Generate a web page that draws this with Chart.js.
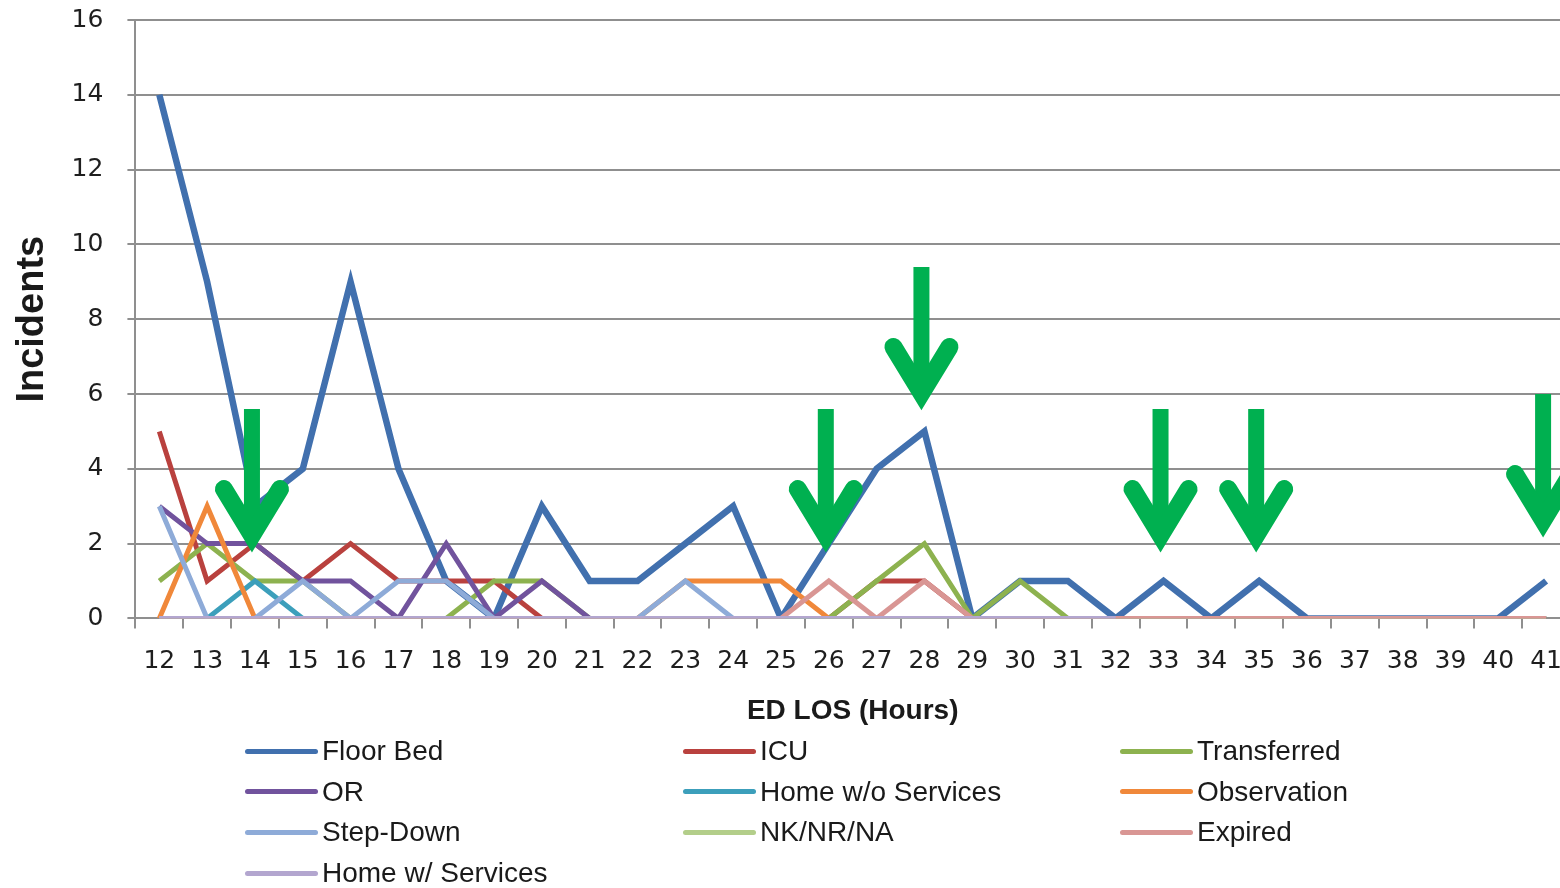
<!DOCTYPE html>
<html>
<head>
<meta charset="utf-8">
<script src="https://cdn.jsdelivr.net/npm/chart.js@4.4.1/dist/chart.umd.min.js"></script>
<style>
  html, body { margin: 0; padding: 0; background: #fff; overflow: hidden; }
  #wrap { position: relative; width: 1580px; height: 888px; }
  #legend { position: absolute; left: 0; top: 0; width: 1560px; height: 888px; pointer-events: none;
    font-family: "Liberation Sans", Arial, sans-serif; font-size: 28px; color: #1a1a1a; }
  .item { position: absolute; display: flex; align-items: center; height: 36px; white-space: nowrap; }
  .swatch { width: 73px; height: 5px; border-radius: 3px; margin-right: 4px; }
</style>
</head>
<body>
<div id="wrap">
  <canvas id="incidents-chart" width="1580" height="888"></canvas>
  <div id="legend"></div>
</div>
<script>
// ED length of stay, hours
const hours = ['12', '13', '14', '15', '16', '17', '18', '19', '20', '21',
  '22', '23', '24', '25', '26', '27', '28', '29', '30', '31',
  '32', '33', '34', '35', '36', '37', '38', '39', '40', '41'];

const floorBed       = [14, 9, 3, 4, 9, 4, 1, 0, 3, 1, 1, 2, 3, 0, 2, 4, 5, 0, 1, 1, 0, 1, 0, 1, 0, 0, 0, 0, 0, 1];
const icu            = [5, 1, 2, 1, 2, 1, 1, 1, 0, 0, 0, 0, 0, 0, 0, 1, 1, 0, 0, 0, 0, 0, 0, 0, 0, 0, 0, 0, 0, 0];
const transferred    = [1, 2, 1, 1, 0, 0, 0, 1, 1, 0, 0, 0, 0, 0, 0, 1, 2, 0, 1, 0, 0, 0, 0, 0, 0, 0, 0, 0, 0, 0];
const orRoom         = [3, 2, 2, 1, 1, 0, 2, 0, 1, 0, 0, 0, 0, 0, 0, 0, 0, 0, 0, 0, 0, 0, 0, 0, 0, 0, 0, 0, 0, 0];
const homeWoServices = [0, 0, 1, 0, 0, 0, 0, 0, 0, 0, 0, 0, 0, 0, 0, 0, 0, 0, 0, 0, 0, 0, 0, 0, 0, 0, 0, 0, 0, 0];
const observation    = [0, 3, 0, 0, 0, 0, 0, 0, 0, 0, 0, 1, 1, 1, 0, 0, 0, 0, 0, 0, 0, 0, 0, 0, 0, 0, 0, 0, 0, 0];
const stepDown       = [3, 0, 0, 1, 0, 1, 1, 0, 0, 0, 0, 1, 0, 0, 0, 0, 0, 0, 0, 0, 0, 0, 0, 0, 0, 0, 0, 0, 0, 0];
const nkNrNa         = [0, 0, 0, 0, 0, 0, 0, 0, 0, 0, 0, 0, 0, 0, 0, 0, 0, 0, 0, 0, 0, 0, 0, 0, 0, 0, 0, 0, 0, 0];
const expired        = [0, 0, 0, 0, 0, 0, 0, 0, 0, 0, 0, 0, 0, 0, 1, 0, 1, 0, 0, 0, 0, 0, 0, 0, 0, 0, 0, 0, 0, 0];
const homeWServices  = [0, 0, 0, 0, 0, 0, 0, 0, 0, 0, 0, 0, 0, 0, 0, 0, 0, 0, 0, 0, 0, null, null, null, null, null, null, null, null, null];

const seriesNames = ['Floor Bed', 'ICU', 'Transferred', 'OR', 'Home w/o Services',
  'Observation', 'Step-Down', 'NK/NR/NA', 'Expired', 'Home w/ Services'];
const seriesData = [floorBed, icu, transferred, orRoom, homeWoServices,
  observation, stepDown, nkNrNa, expired, homeWServices];
const seriesColors = ['#4170AE', '#B9413E', '#8DB24F', '#71539D', '#3C9FBB',
  '#F0883A', '#8EABD8', '#B3CE8A', '#D99694', '#B3A6CF'];

// green annotation arrows: hour they point at, value of the tip
const arrowHours = ['14', '26', '28', '33', '35', '41'];
const arrowTips = [1.8, 1.8, 5.6, 1.8, 1.8, 2.2];

const arrowPlugin = {
  id: 'arrows',
  afterDatasetsDraw(chart) {
    const { ctx, scales: { x, y } } = chart;
    ctx.save();
    ctx.strokeStyle = '#00B050';
    arrowHours.forEach((h, i) => {
      const cx = x.getPixelForValue(hours.indexOf(h)) - 3;
      const tip = y.getPixelForValue(arrowTips[i]);
      ctx.lineWidth = 16;
      ctx.lineCap = 'butt';
      ctx.beginPath();
      ctx.moveTo(cx, tip - 142);
      ctx.lineTo(cx, tip - 24);
      ctx.stroke();
      ctx.lineWidth = 18;
      ctx.lineCap = 'round';
      ctx.lineJoin = 'miter';
      ctx.beginPath();
      ctx.moveTo(cx - 28, tip - 62);
      ctx.lineTo(cx, tip - 16);
      ctx.lineTo(cx + 28, tip - 62);
      ctx.stroke();
    });
    ctx.restore();
  }
};

const n = seriesNames.length;
const datasets = seriesNames.map((name, i) => ({
  label: name,
  data: seriesData[i],
  borderColor: seriesColors[i],
  backgroundColor: seriesColors[i],
  borderWidth: i === 0 ? 6.5 : 5,
  pointRadius: 0,
  tension: 0,
  fill: false,
  order: n - 1 - i
}));

const gridGrey = '#8f8f8f';
const ctx = document.getElementById('incidents-chart').getContext('2d');
const chart = new Chart(ctx, {
  type: 'line',
  data: { labels: hours, datasets: datasets },
  options: {
    responsive: false,
    animation: false,
    devicePixelRatio: 1,
    layout: { padding: { top: 20, right: 0, bottom: 154, left: 0 } },
    plugins: {
      legend: { display: false },
      tooltip: { enabled: false }
    },
    scales: {
      x: {
        offset: true,
        grid: { offset: true, drawOnChartArea: false, drawTicks: true, tickLength: 10, color: gridGrey, lineWidth: 2 },
        border: { color: gridGrey, width: 2 },
        ticks: {
          autoSkip: false, maxRotation: 0, padding: 18, color: '#1e1e1e',
          font: { family: 'DejaVu Sans', size: 25 }
        },
        title: {
          display: true, text: 'ED LOS (Hours)', color: '#1a1a1a',
          font: { family: 'Liberation Sans', size: 28, weight: 'bold' },
          padding: { top: 0, bottom: 6 }
        }
      },
      y: {
        min: 0, max: 16,
        // long tick slot keeps the labels away from the axis, only the last 8px are drawn
        grid: { color: gridGrey, lineWidth: 2, tickLength: 28, tickBorderDash: [0, 20, 40] },
        border: { color: gridGrey, width: 2 },
        ticks: {
          stepSize: 2, padding: 4, color: '#1e1e1e',
          font: { family: 'DejaVu Sans', size: 25 }
        },
        title: {
          display: true, text: 'Incidents', color: '#1a1a1a',
          font: { family: 'Liberation Sans', size: 38, weight: 'bold' },
          padding: { top: 10, bottom: 12 }
        }
      }
    }
  },
  plugins: [arrowPlugin]
});

// legend laid out in three columns like the original
const legendCols = [245, 683, 1120];
const legendBox = document.getElementById('legend');
seriesNames.forEach((name, i) => {
  const item = document.createElement('div');
  item.className = 'item';
  item.style.left = legendCols[i % 3] + 'px';
  item.style.top = (733 + Math.floor(i / 3) * 40.7) + 'px';
  const sw = document.createElement('span');
  sw.className = 'swatch';
  sw.style.background = seriesColors[i];
  const txt = document.createElement('span');
  txt.textContent = name;
  item.appendChild(sw);
  item.appendChild(txt);
  legendBox.appendChild(item);
});
</script>
</body>
</html>
